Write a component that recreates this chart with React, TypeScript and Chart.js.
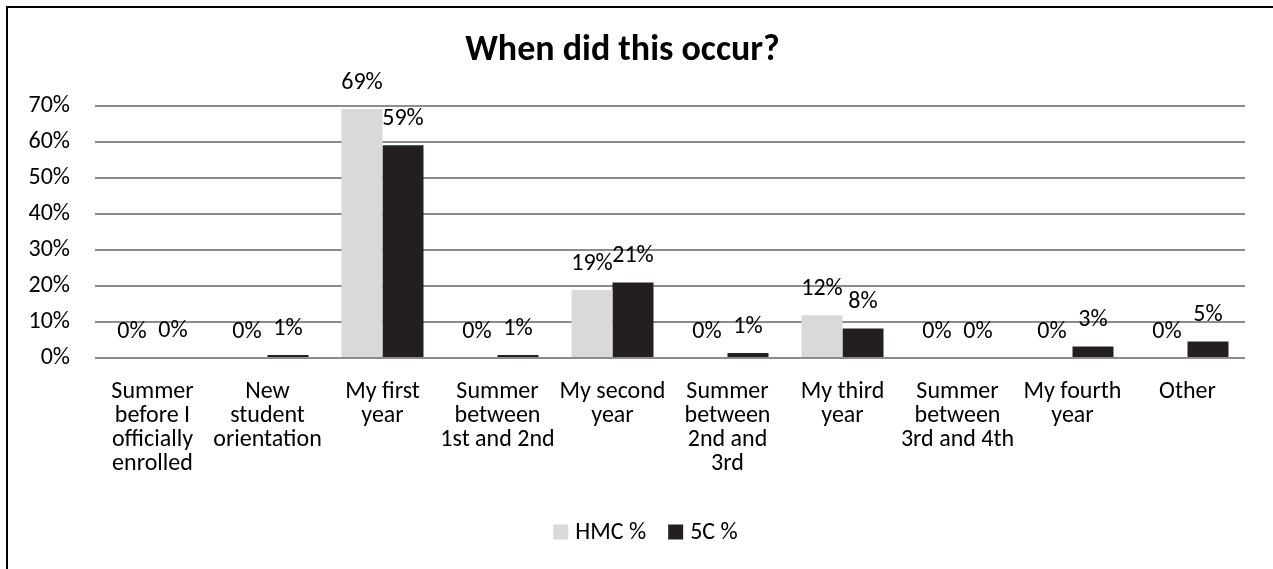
import React, { useEffect, useRef } from "react";
import { Chart, registerables } from "chart.js";

Chart.register(...registerables);

const categories: string[][] = [
  ["Summer", "before I", "officially", "enrolled"],
  ["New", "student", "orientation"],
  ["My first", "year"],
  ["Summer", "between", "1st and 2nd"],
  ["My second", "year"],
  ["Summer", "between", "2nd and", "3rd"],
  ["My third", "year"],
  ["Summer", "between", "3rd and 4th"],
  ["My fourth", "year"],
  ["Other"],
];
const hmcValues: number[] = [0, 0, 69.2, 0, 18.9, 0, 11.9, 0, 0, 0];
const fiveCValues: number[] = [0.3, 0.8, 59.1, 0.8, 21.0, 1.4, 8.2, 0, 3.2, 4.6];
const yTicks: number[] = [0, 10, 20, 30, 40, 50, 60, 70];
const seriesNames: string[] = ["HMC %", "5C %"];

const FONT = "Carlito, Calibri, Lato, sans-serif";

const labelPlugin = {
  id: "barLabels",
  afterDatasetsDraw(chart: any) {
    const ctx = chart.ctx;
    ctx.save();
    ctx.font = `24px ${FONT}`;
    ctx.fillStyle = "#000";
    ctx.textAlign = "center";
    ctx.textBaseline = "middle";
    chart.data.datasets.forEach((ds: any, di: number) => {
      const meta = chart.getDatasetMeta(di);
      meta.data.forEach((el: any, i: number) => {
        const v = ds.data[i] as number;
        ctx.fillText(Math.round(v) + "%", el.x, el.y - 26);
      });
    });
    ctx.restore();
  },
};

const legendPlugin = {
  id: "customLegend",
  afterDraw(chart: any) {
    const ctx = chart.ctx;
    ctx.save();
    ctx.font = `24px ${FONT}`;
    ctx.textBaseline = "middle";
    ctx.textAlign = "left";
    const box = 15;
    const gap = 7;
    const itemGap = 22;
    const items = chart.data.datasets.map((ds: any) => ({
      text: ds.label,
      color: ds.backgroundColor,
      w: box + gap + ctx.measureText(ds.label).width,
    }));
    const total = items.reduce((s: number, it: any) => s + it.w, 0) + itemGap * (items.length - 1);
    let x = chart.width / 2 + 9 - total / 2;
    const cy = 532;
    items.forEach((it: any) => {
      ctx.fillStyle = it.color;
      ctx.fillRect(x, cy - box / 2, box, box);
      ctx.fillStyle = "#000";
      ctx.fillText(it.text, x + box + gap, cy + 1);
      x += it.w + itemGap;
    });
    ctx.restore();
  },
};

export default function App() {
  const ref = useRef<HTMLCanvasElement | null>(null);
  useEffect(() => {
    document.body.style.margin = "0";
    if (!ref.current) return;
    const chart = new Chart(ref.current, {
      type: "bar",
      data: {
        labels: categories,
        datasets: [
          {
            label: seriesNames[0],
            data: hmcValues,
            backgroundColor: "#d9d9d9",
            borderWidth: 0,
            categoryPercentage: 0.713,
            barPercentage: 1,
          },
          {
            label: seriesNames[1],
            data: fiveCValues,
            backgroundColor: "#231f20",
            borderWidth: 0,
            categoryPercentage: 0.713,
            barPercentage: 1,
          },
        ],
      },
      options: {
        animation: false,
        responsive: false,
        maintainAspectRatio: false,
        layout: { padding: { left: 0, right: 28, top: 0, bottom: 0 } },
        plugins: {
          title: {
            display: true,
            text: "When did this occur?",
            color: "#000",
            font: { family: FONT, size: 36, weight: "bold", lineHeight: 1.2 },
            padding: { top: 29.5, bottom: 33.3 },
          },
          legend: { display: false },
          tooltip: { enabled: false },
        },
        scales: {
          x: {
            grid: { display: false, drawTicks: false },
            border: { display: false },
            ticks: {
              color: "#000",
              font: { family: FONT, size: 24, lineHeight: 1.0 },
              padding: 22,
              maxRotation: 0,
              autoSkip: false,
            },
            afterFit: (scale: any) => {
              scale.height = 211;
            },
          },
          y: {
            min: 0,
            max: 70,
            afterBuildTicks: (scale: any) => {
              scale.ticks = yTicks.map((v) => ({ value: v }));
            },
            grid: { color: "#8c8c8c", lineWidth: 2, drawTicks: false },
            border: { display: false },
            ticks: {
              color: "#000",
              font: { family: FONT, size: 24 },
              padding: 25,
              callback: (v: any) => v + "%",
            },
            afterFit: (scale: any) => {
              scale.width = 95;
            },
          },
        },
      },
      plugins: [labelPlugin, legendPlugin],
    });
    return () => chart.destroy();
  }, []);
  return (
    <div style={{ position: "relative", width: 1273, height: 569, overflow: "hidden", background: "#fff" }}>
      <canvas ref={ref} width={1273} height={569} style={{ display: "block" }} />
      <div
        style={{
          position: "absolute",
          left: 6,
          top: 6,
          width: 1400,
          height: 700,
          borderLeft: "2px solid #000",
          borderTop: "2px solid #000",
          pointerEvents: "none",
        }}
      />
    </div>
  );
}
